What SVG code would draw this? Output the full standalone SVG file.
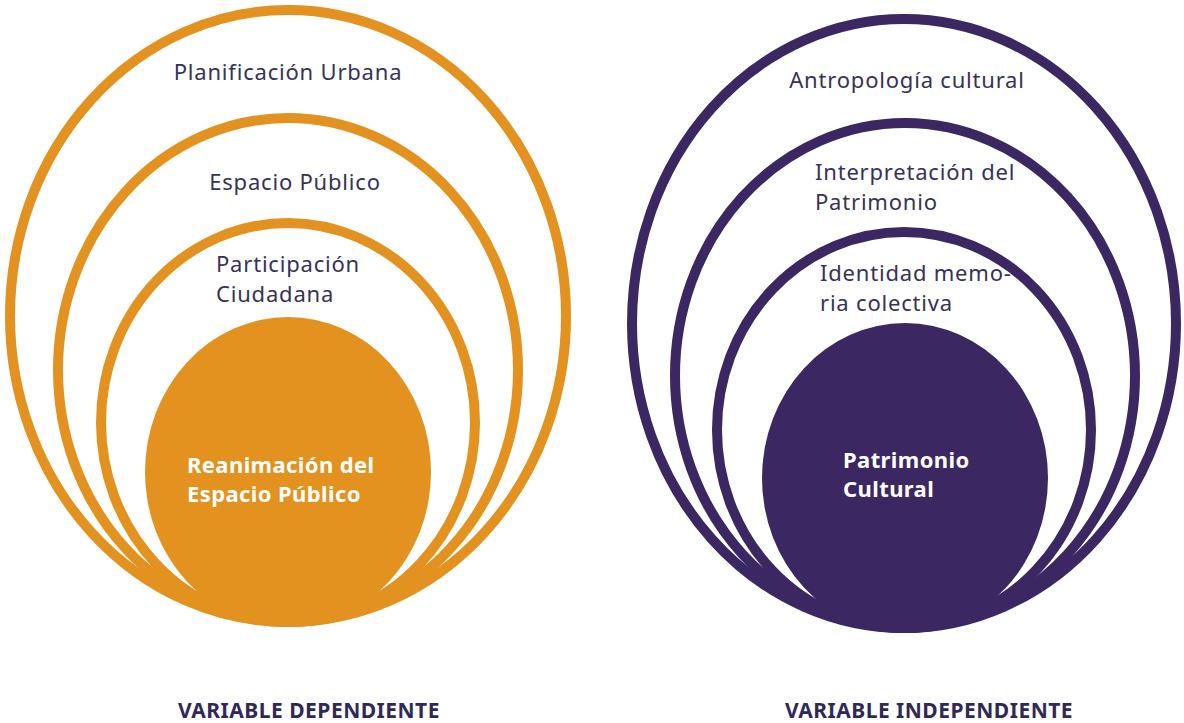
<svg xmlns="http://www.w3.org/2000/svg" width="1184" height="723" viewBox="0 0 1184 723">
<style>
.ringO{fill:none;stroke:#E3921F;stroke-width:10}
.ringP{fill:none;stroke:#3B2862;stroke-width:10}
.coreO{fill:#E3921F}
.coreP{fill:#3B2862}
.lbl{font-family:"Noto Sans","Liberation Sans",sans-serif;font-size:22px;letter-spacing:0.8px;fill:#36325A}
.core{font-family:"Noto Sans","Liberation Sans",sans-serif;font-size:22px;letter-spacing:0.4px;font-weight:bold;fill:#FFFFFF}
.title{font-family:"Noto Sans","Liberation Sans",sans-serif;font-size:21px;letter-spacing:0.5px;font-weight:bold;fill:#2E2958}
</style>
<rect width="1184" height="723" fill="#FFFFFF"/>
<g id="dependiente">
  <g id="planificacion-urbana">
    <ellipse class="ringO" cx="288" cy="316" rx="278" ry="306"/>
    <text class="lbl" x="288" y="80" text-anchor="middle">Planificación Urbana</text>
  </g>
  <g id="espacio-publico">
    <ellipse class="ringO" cx="288" cy="370" rx="230" ry="252"/>
    <text class="lbl" x="295" y="190" text-anchor="middle">Espacio Público</text>
  </g>
  <g id="participacion-ciudadana">
    <ellipse class="ringO" cx="288" cy="422.5" rx="187" ry="199.5"/>
    <text class="lbl" x="216" y="272">Participación</text>
    <text class="lbl" x="216" y="302">Ciudadana</text>
  </g>
  <g id="reanimacion">
    <ellipse class="coreO" cx="288" cy="472" rx="143" ry="155"/>
    <text class="core" x="187" y="473">Reanimación del</text>
    <text class="core" x="187" y="502">Espacio Público</text>
  </g>
  <g id="variable-dependiente">
    <text class="title" x="309" y="718" text-anchor="middle">VARIABLE DEPENDIENTE</text>
  </g>
</g>
<g id="independiente">
  <g id="antropologia-cultural">
    <ellipse class="ringP" cx="904" cy="323.5" rx="272" ry="304.5"/>
    <text class="lbl" x="907" y="88" text-anchor="middle">Antropología cultural</text>
  </g>
  <g id="interpretacion-patrimonio">
    <ellipse class="ringP" cx="905" cy="375.5" rx="230" ry="252.5"/>
    <text class="lbl" x="815" y="180">Interpretación del</text>
    <text class="lbl" x="815" y="210">Patrimonio</text>
  </g>
  <g id="identidad-memoria">
    <ellipse class="ringP" cx="904" cy="430" rx="187" ry="198"/>
    <text class="lbl" x="820" y="281">Identidad memo-</text>
    <text class="lbl" x="820" y="311">ria colectiva</text>
  </g>
  <g id="patrimonio-cultural">
    <ellipse class="coreP" cx="905" cy="478" rx="143" ry="155"/>
    <text class="core" x="843" y="468">Patrimonio</text>
    <text class="core" x="843" y="497">Cultural</text>
  </g>
  <g id="variable-independiente">
    <text class="title" x="929" y="718" text-anchor="middle">VARIABLE INDEPENDIENTE</text>
  </g>
</g>
<g id="connectors"></g>
</svg>
